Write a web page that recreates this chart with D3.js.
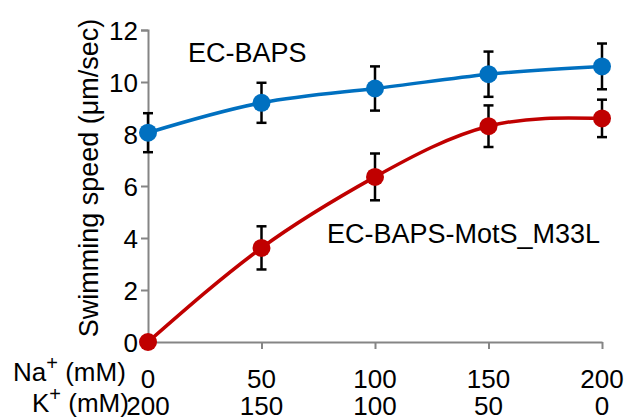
<!DOCTYPE html>
<meta charset="utf-8">
<html>
<head>
<script src="https://d3js.org/d3.v7.min.js"></script>
<style>
body { margin: 0; background: #fff; }
text { font-family: "Liberation Sans", Arial, sans-serif; fill: #000; }
</style>
</head>
<body>
<div id="chart"></div>
<script>

// data
var naValues = [0, 50, 100, 150, 200];
var kValues = [200, 150, 100, 50, 0];
var blueMean = [8.05, 9.2, 9.75, 10.3, 10.6];
var blueErr = [0.75, 0.77, 0.85, 0.87, 0.88];
var redMean = [0, 3.62, 6.35, 8.3, 8.6];
var redErr = [0, 0.83, 0.9, 0.8, 0.72];
var yTicks = [0, 2, 4, 6, 8, 10, 12];

var width = 629, height = 417;
var svg = d3.select("#chart").append("svg")
    .attr("width", width)
    .attr("height", height);

var x = d3.scaleLinear().domain([0, 200]).range([148, 602]);
var y = d3.scaleLinear().domain([0, 12]).range([342, 30]);

var axisColor = "#858585";

// y axis
var yAxis = svg.append("g")
    .attr("transform", "translate(148,0)")
    .call(d3.axisLeft(y).tickValues(yTicks).tickSize(7).tickPadding(3));
yAxis.select(".domain").attr("stroke", axisColor).attr("stroke-width", 2);
yAxis.selectAll(".tick line").attr("stroke", axisColor).attr("stroke-width", 2);
yAxis.selectAll(".tick text")
    .style("font-family", "Liberation Sans, Arial, sans-serif")
    .style("font-size", "26px")
    .attr("fill", "#000")
    .attr("dy", "0.36em");

// x axis (line + ticks, labels drawn separately in two rows)
var xAxis = svg.append("g")
    .attr("transform", "translate(0,342)")
    .call(d3.axisBottom(x).tickValues(naValues).tickSize(7).tickSizeOuter(0).tickFormat(""));
xAxis.select(".domain").attr("stroke", axisColor).attr("stroke-width", 2);
xAxis.selectAll(".tick line").attr("stroke", axisColor).attr("stroke-width", 2);

// axis label
svg.append("text")
    .attr("transform", "translate(98,178) rotate(-90)")
    .attr("text-anchor", "middle")
    .style("font-size", "27px")
    .text("Swimming speed (μm/sec)");

// two rows of concentrations
svg.selectAll(".naLab")
    .data(naValues)
    .enter()
    .append("text")
      .attr("class", "naLab")
      .attr("x", function(d) { return x(d); })
      .attr("y", 388)
      .attr("text-anchor", "middle")
      .style("font-size", "26px")
      .text(function(d) { return d; });

svg.selectAll(".kLab")
    .data(kValues)
    .enter()
    .append("text")
      .attr("class", "kLab")
      .attr("x", function(d, i) { return x(naValues[i]); })
      .attr("y", 415)
      .attr("text-anchor", "middle")
      .style("font-size", "26px")
      .text(function(d) { return d; });

var na = svg.append("text").attr("x", 13).attr("y", 381).style("font-size", "26px");
na.append("tspan").text("Na");
na.append("tspan").attr("dy", -11).style("font-size", "20px").text("+");
na.append("tspan").attr("dy", 11).text(" (mM)");

var k = svg.append("text").attr("x", 32).attr("y", 412).style("font-size", "26px");
k.append("tspan").text("K");
k.append("tspan").attr("dy", -11).style("font-size", "20px").text("+");
k.append("tspan").attr("dy", 11).text(" (mM)");

// series
var series = [
  {name: "EC-BAPS", mean: blueMean, err: blueErr, color: "#0070C0"},
  {name: "EC-BAPS-MotS_M33L", mean: redMean, err: redErr, color: "#C00000"}
];

var line = d3.line()
    .x(function(d) { return x(d.x); })
    .y(function(d) { return y(d.y); })
    .curve(d3.curveNatural);

series.forEach(function(s) {
  var pts = naValues.map(function(v, i) { return {x: v, y: s.mean[i], e: s.err[i]}; });

  svg.append("path")
    .datum(pts)
    .attr("d", line)
    .attr("fill", "none")
    .attr("stroke", s.color)
    .attr("stroke-width", 3.5);

  var eb = svg.append("g");
  pts.filter(function(d) { return d.e > 0; }).forEach(function(d) {
    var cx = x(d.x);
    eb.append("line")
      .attr("x1", cx).attr("x2", cx)
      .attr("y1", y(d.y - d.e)).attr("y2", y(d.y + d.e))
      .attr("stroke", "#000").attr("stroke-width", 2.5);
    eb.append("line")
      .attr("x1", cx - 5).attr("x2", cx + 5)
      .attr("y1", y(d.y + d.e)).attr("y2", y(d.y + d.e))
      .attr("stroke", "#000").attr("stroke-width", 2.5);
    eb.append("line")
      .attr("x1", cx - 5).attr("x2", cx + 5)
      .attr("y1", y(d.y - d.e)).attr("y2", y(d.y - d.e))
      .attr("stroke", "#000").attr("stroke-width", 2.5);
  });

  svg.append("g")
    .selectAll("circle")
    .data(pts)
    .enter()
    .append("circle")
      .attr("cx", function(d) { return x(d.x); })
      .attr("cy", function(d) { return y(d.y); })
      .attr("r", 9)
      .style("fill", s.color);
});

// series labels
svg.append("text").attr("x", 188).attr("y", 62).style("font-size", "27px").text("EC-BAPS");
svg.append("text").attr("x", 327).attr("y", 243).style("font-size", "27px").text("EC-BAPS-MotS_M33L");

</script>
</body>
</html>
